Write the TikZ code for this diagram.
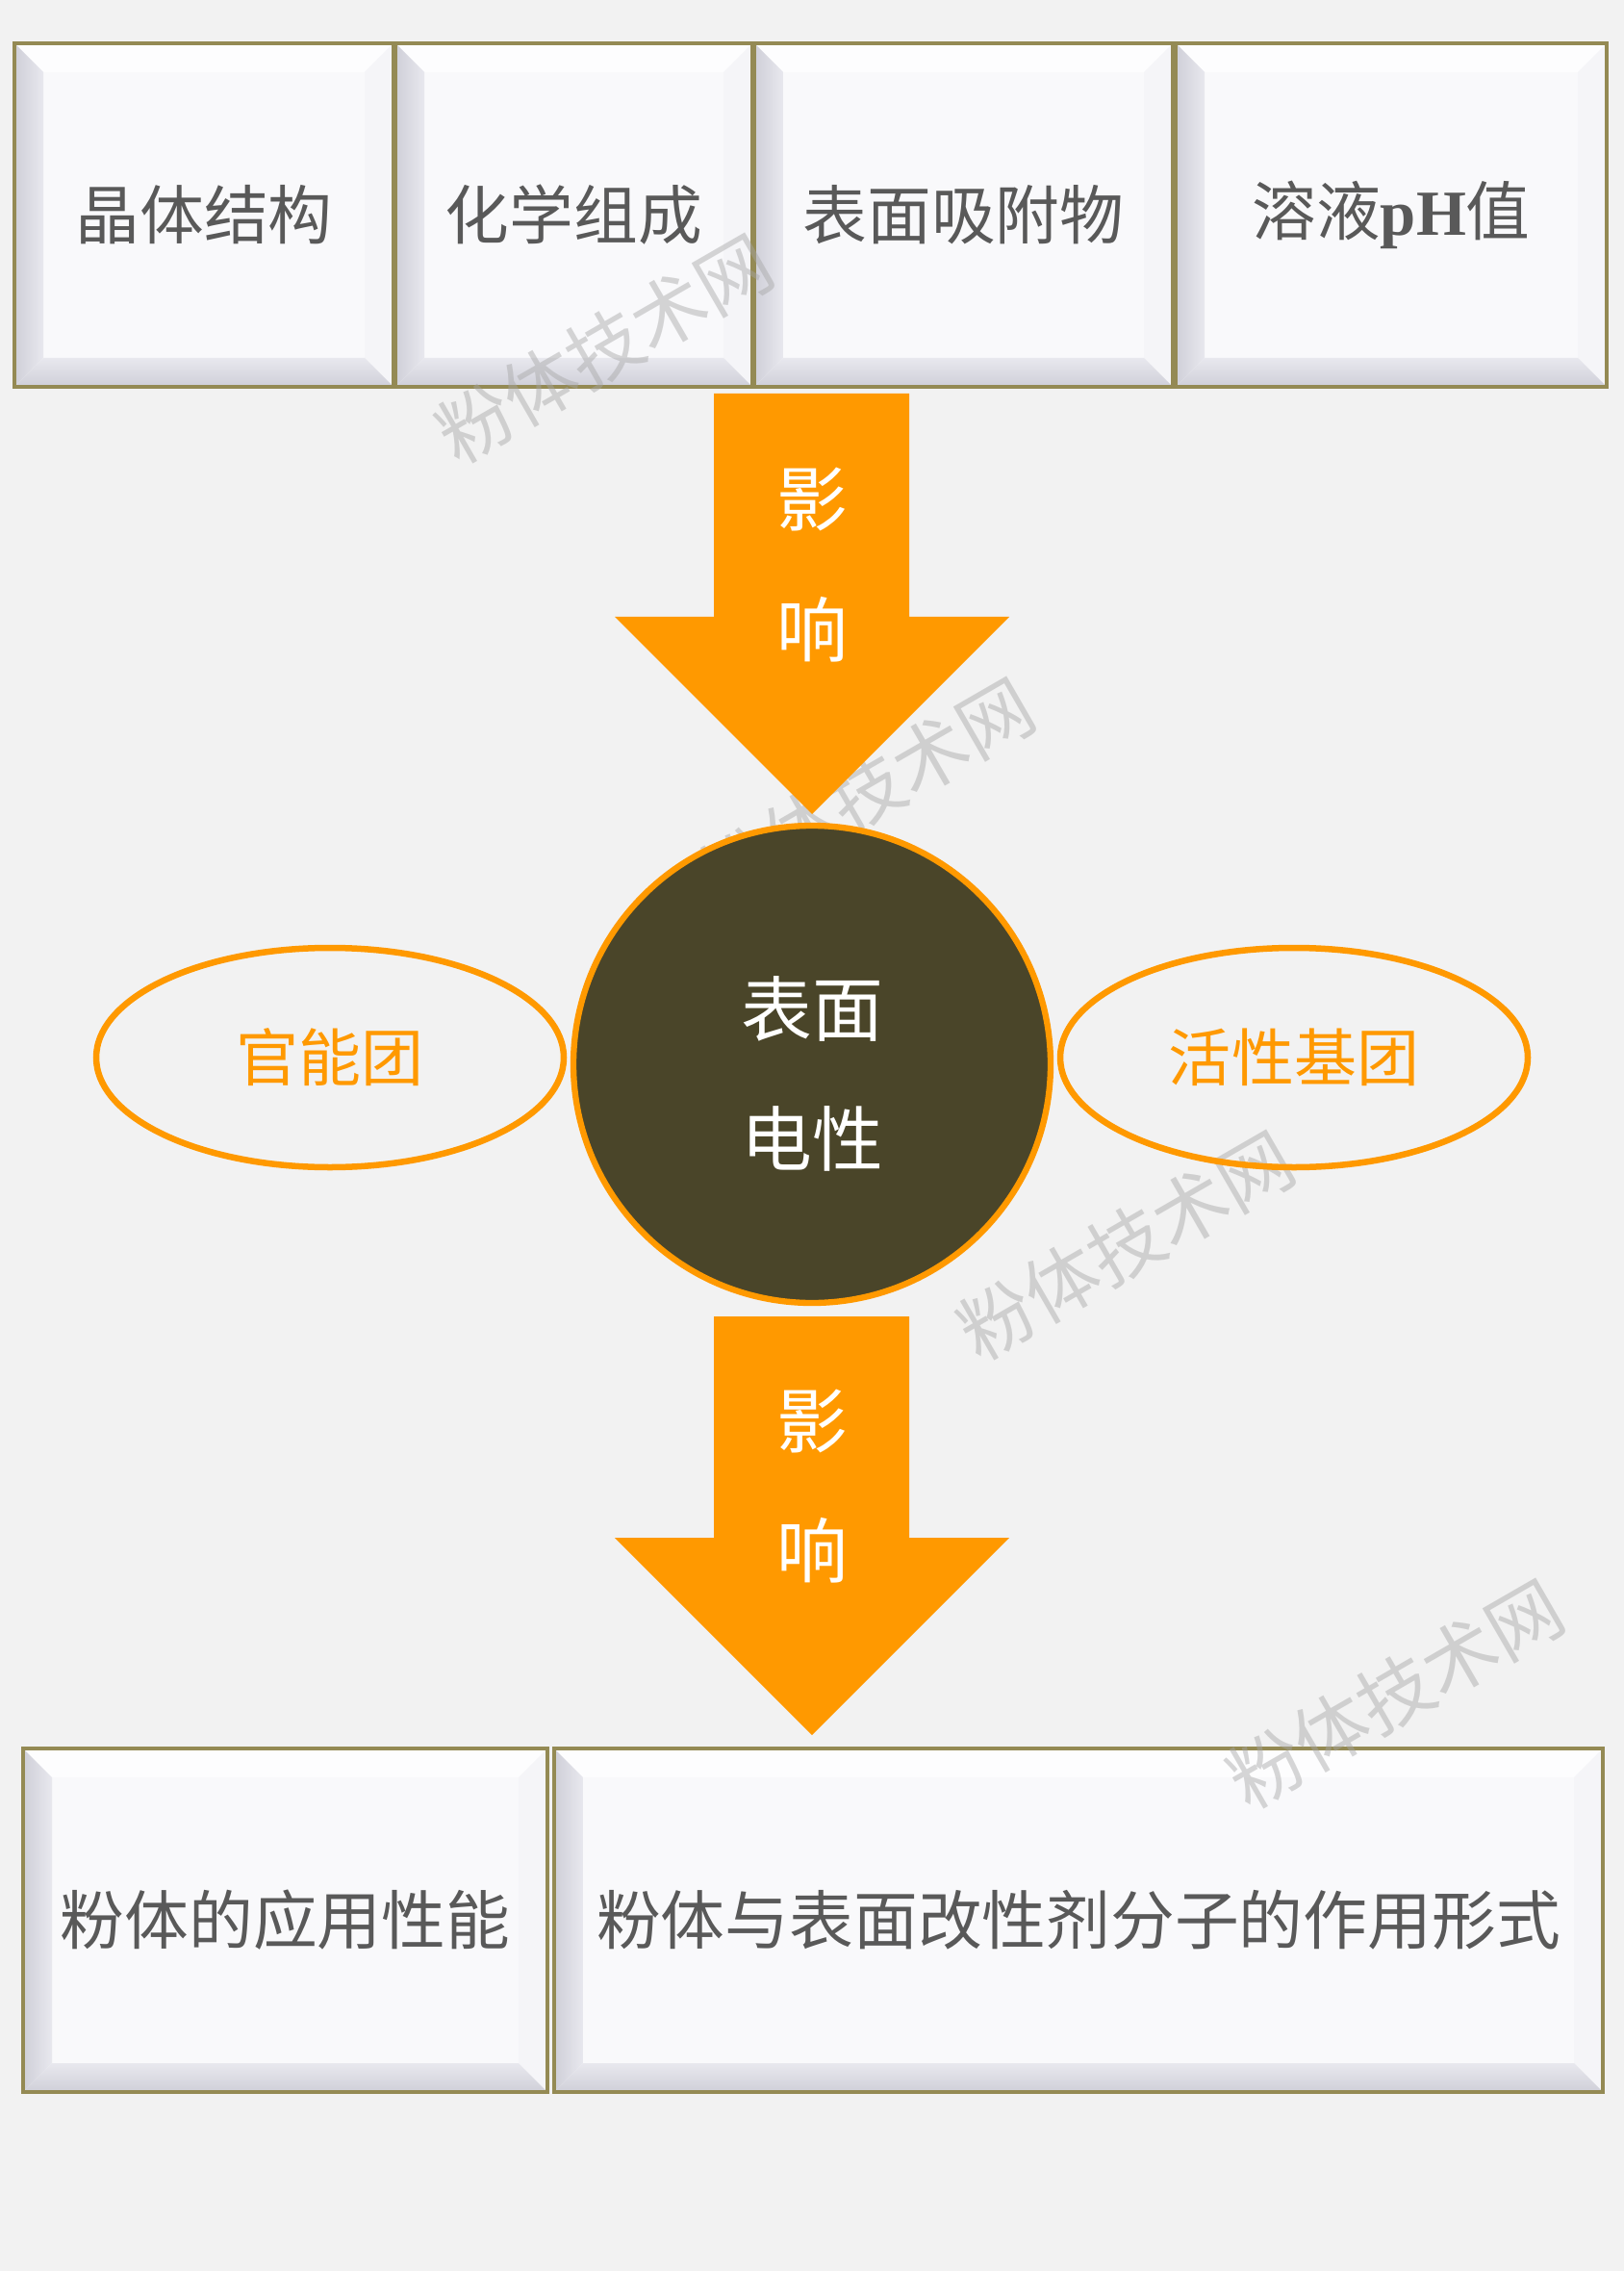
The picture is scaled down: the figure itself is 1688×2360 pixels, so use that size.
\documentclass[tikz,border=0pt]{standalone}
\usepackage{fontspec}
\setmainfont{Noto Sans CJK SC}
\newfontfamily\latinserif{Liberation Serif}
\usetikzlibrary{shapes.geometric}
\usetikzlibrary{calc}

\definecolor{pagebg}{HTML}{F2F2F2}
\definecolor{boxedge}{HTML}{948A54}
\definecolor{boxface}{HTML}{F9F9FB}
\definecolor{bevdark}{HTML}{CFCFD8}
\definecolor{bevmid}{HTML}{E8E8EE}
\definecolor{bevlight}{HTML}{FDFDFE}
\definecolor{txtgray}{HTML}{595959}
\definecolor{flow}{HTML}{FF9900}
\definecolor{core}{HTML}{4A4529}
\definecolor{wmgray}{HTML}{A6A6A6}

\begin{document}
\begin{tikzpicture}[x=0.1mm, y=-0.1mm,
    factor/.style={rectangle, draw=boxedge, line width=1.2pt, fill=boxface, text=txtgray,
      font=\fontsize{19}{22}\selectfont, inner sep=0pt, minimum height=35.7mm,
      path picture={
        \path (path picture bounding box.north west) coordinate (pnw)
              (path picture bounding box.north east) coordinate (pne)
              (path picture bounding box.south west) coordinate (psw)
              (path picture bounding box.south east) coordinate (pse);
        \fill[bevlight] (pnw) -- (pne) -- ($(pne)+(-3mm,-3mm)$) -- ($(pnw)+(3mm,-3mm)$) -- cycle;
        \fill[bevlight!60!bevmid] (pne) -- (pse) -- ($(pse)+(-3mm,3mm)$) -- ($(pne)+(-3mm,-3mm)$) -- cycle;
        \shade[left color=bevdark, right color=bevmid] (pnw) -- ($(pnw)+(3mm,-3mm)$) -- ($(psw)+(3mm,3mm)$) -- (psw) -- cycle;
        \shade[bottom color=bevdark, top color=bevmid] (psw) -- ($(psw)+(3mm,3mm)$) -- ($(pse)+(-3mm,3mm)$) -- (pse) -- cycle;
      }},
    sayword/.style={text=white, font=\fontsize{21}{24}\selectfont, inner sep=0pt},
    group/.style={ellipse, draw=flow, line width=1.85pt, text=flow, inner sep=0pt,
      minimum width=48.6mm, minimum height=22.8mm, font=\fontsize{18.5}{22}\selectfont},
    wmark/.style={rotate=30, text=wmgray, opacity=0.45, font=\fontsize{22}{24}\selectfont}]

  \useasboundingbox (0,0) rectangle (1688,2360);
  \fill[pagebg] (0,0) rectangle (1688,2360);

  % factors
  \node[factor, minimum width=39.4mm] (crystal) at (212,223.5) {晶体结构};
  \node[factor, minimum width=37.1mm] (chem) at (596.5,223.5) {化学组成};
  \node[factor, minimum width=43.5mm] (adsorb) at (1001.5,223.5) {表面吸附物};
  \node[factor, minimum width=44.8mm] (ph) at (1446,223.5) {溶液{\latinserif\bfseries pH}值};

  % results
  \node[factor, minimum width=54.5mm] (use) at (296.5,1995.5) {粉体的应用性能};
  \node[factor, minimum width=109mm] (modify) at (1121,1995.5) {粉体与表面改性剂分子的作用形式};

  % watermarks
  \node[wmark] (wm1) at (628,362) {粉体技术网};
  \node[wmark] (wm2) at (900,823) {粉体技术网};
  \node[wmark] (wm3) at (1170,1294) {粉体技术网};
  \node[wmark] (wm4) at (1450,1760) {粉体技术网};

  % first arrow
  \fill[flow] (742,409) -- (945,409) -- (945,641) -- (1049,641) -- (844,846) -- (639,641) -- (742,641) -- cycle;
  \node[sayword] (ying1) at (844,519) {影};
  \node[sayword] (xiang1) at (844,654) {响};

  % surface charge
  \node[circle, draw=flow, line width=1.8pt, fill=core, minimum size=49.6mm, inner sep=0pt] (charge) at (844,1106) {};
  \node[text=white, align=center, inner sep=0pt, font=\fontsize{21}{38.5}\selectfont] (chargetext) at (844,1116) {表面\\电性};
  \node[group] (func) at (343,1099) {官能团};
  \node[group] (active) at (1345,1099) {活性基团};

  % second arrow
  \fill[flow] (742,1368) -- (945,1368) -- (945,1598) -- (1049,1598) -- (844,1803) -- (639,1598) -- (742,1598) -- cycle;
  \node[sayword] (ying2) at (844,1477) {影};
  \node[sayword] (xiang2) at (844,1611) {响};
\end{tikzpicture}
\end{document}
